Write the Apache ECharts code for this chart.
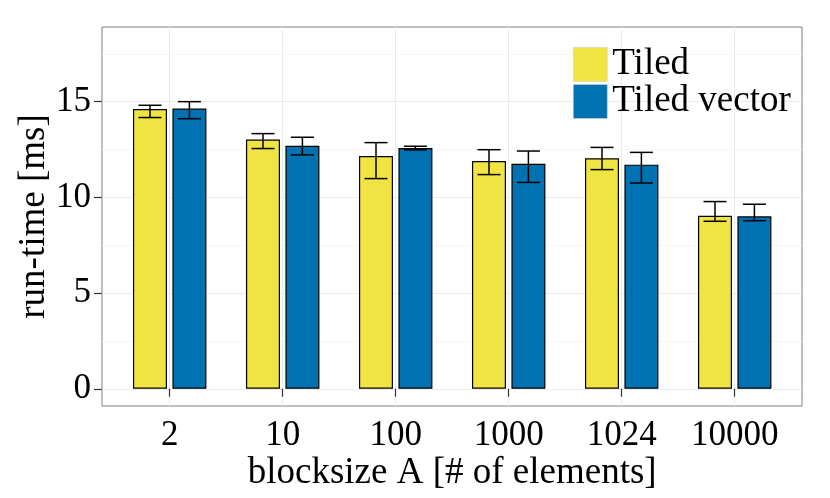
<!DOCTYPE html>
<html>
<head>
    <meta charset="utf-8"/>
    <title>run-time per blocksize</title>
    <script src="https://cdn.jsdelivr.net/npm/echarts@6/dist/echarts.min.js"></script>
    <style>
        html, body { margin: 0; padding: 0; background: #fff; }
        #main { width: 830px; height: 498px; }
    </style>
</head>
<body>
    <div id="main"></div>
    <script type="text/javascript">
        // 数据
        var blockSizes = ['2', '10', '100', '1000', '1024', '10000'];
        var tiledMean = [14.62, 13.02, 12.16, 11.90, 12.04, 9.04];
        var tiledLow = [14.17, 12.55, 10.98, 11.19, 11.45, 8.75];
        var tiledHigh = [14.81, 13.33, 12.86, 12.49, 12.61, 9.78];
        var vectorMean = [14.64, 12.70, 12.58, 11.75, 11.71, 9.01];
        var vectorLow = [14.11, 12.22, 12.48, 10.78, 10.75, 8.78];
        var vectorHigh = [15.00, 13.14, 12.67, 12.42, 12.35, 9.64];
        var yMajorTicks = [0, 5, 10, 15];
        var yMinorTicks = [2.5, 7.5, 12.5, 17.5];

        var font = 'Liberation Serif';
        var myChart = echarts.init(document.getElementById('main'));

        function errorData(low, high) {
            return low.map(function (v, i) {
                return [i, v, high[i]];
            });
        }

        // offset: 柱子中心相对类目中心的像素偏移
        function errorBar(offset) {
            return function (params, api) {
                var lo = api.coord([api.value(0), api.value(1)]);
                var hi = api.coord([api.value(0), api.value(2)]);
                var x = lo[0] + offset;
                var half = 11.5;
                var style = { stroke: '#000', lineWidth: 1.5 };
                return {
                    type: 'group',
                    children: [
                        { type: 'line', shape: { x1: x, y1: lo[1], x2: x, y2: hi[1] }, style: style },
                        { type: 'line', shape: { x1: x - half, y1: lo[1], x2: x + half, y2: lo[1] }, style: style },
                        { type: 'line', shape: { x1: x - half, y1: hi[1], x2: x + half, y2: hi[1] }, style: style }
                    ]
                };
            };
        }

        var option = {
            animation: false,
            textStyle: { fontFamily: font },
            grid: [
                // 面板（边框 + 横向网格线）
                { left: 102, right: 28, top: 27, bottom: 92, show: true,
                  borderColor: '#7f7f7f', borderWidth: 1, backgroundColor: '#fff' },
                // 数据区域（类目中心 = 刻度）
                { left: 169.7, right: 95.3, top: 27, bottom: 92 }
            ],
            legend: {
                data: ['Tiled', 'Tiled vector'],
                orient: 'vertical',
                left: 573,
                top: 46,
                padding: 0,
                itemWidth: 34,
                itemHeight: 34,
                itemGap: 0,
                icon: 'rect',
                itemStyle: { borderColor: '#d0d0d0', borderWidth: 0.6 },
                textStyle: { fontFamily: font, fontSize: 37, color: '#000', lineHeight: 34 }
            },
            xAxis: [
                { type: 'value', gridIndex: 0, show: false, min: 0, max: 1 },
                {
                    type: 'category',
                    gridIndex: 1,
                    data: blockSizes,
                    boundaryGap: false,
                    name: 'blocksize A [# of elements]',
                    nameLocation: 'middle',
                    nameGap: 49,
                    nameMoveOverlap: false,
                    nameTextStyle: { fontFamily: font, fontSize: 37, color: '#000' },
                    axisLine: { show: false },
                    axisTick: { show: true, interval: 0, length: 8, lineStyle: { color: '#333', width: 1.2 } },
                    axisLabel: { interval: 0, fontFamily: font, fontSize: 35, color: '#000', margin: 12 },
                    splitLine: { show: true, interval: 0, lineStyle: { color: '#ebebeb', width: 1 } }
                }
            ],
            yAxis: [
                {
                    type: 'value',
                    gridIndex: 0,
                    min: -0.9,
                    max: 18.9,
                    name: 'run-time [ms]',
                    nameLocation: 'middle',
                    nameRotate: 90,
                    nameGap: 49,
                    nameMoveOverlap: false,
                    nameTextStyle: { fontFamily: font, fontSize: 37, color: '#000' },
                    axisLine: { show: false },
                    axisTick: { show: true, length: 8, customValues: yMajorTicks,
                                lineStyle: { color: '#333', width: 1.2 } },
                    axisLabel: { fontFamily: font, fontSize: 35, color: '#000', margin: 11,
                                 customValues: yMajorTicks },
                    splitLine: { show: true, lineStyle: { color: '#ebebeb', width: 1 } }
                },
                {
                    type: 'value',
                    gridIndex: 1,
                    min: -0.9,
                    max: 18.9,
                    show: false
                },
                {
                    // 次网格线
                    type: 'value',
                    gridIndex: 0,
                    min: -0.9,
                    max: 18.9,
                    axisLine: { show: false },
                    axisLabel: { show: false, customValues: yMinorTicks },
                    axisTick: { show: false, customValues: yMinorTicks },
                    splitLine: { show: true, lineStyle: { color: '#f7f7f7', width: 1 } }
                }
            ],
            series: [
                {
                    name: 'Tiled',
                    type: 'bar',
                    xAxisIndex: 1,
                    yAxisIndex: 1,
                    data: tiledMean,
                    barWidth: 34,
                    barGap: '16%',
                    clip: false,
                    itemStyle: { color: '#F0E442', borderColor: '#000', borderWidth: 1.2 }
                },
                {
                    name: 'Tiled vector',
                    type: 'bar',
                    xAxisIndex: 1,
                    yAxisIndex: 1,
                    data: vectorMean,
                    barWidth: 34,
                    barGap: '16%',
                    clip: false,
                    itemStyle: { color: '#0072B2', borderColor: '#000', borderWidth: 1.2 }
                },
                {
                    name: 'Tiled err',
                    type: 'custom',
                    xAxisIndex: 1,
                    yAxisIndex: 1,
                    data: errorData(tiledLow, tiledHigh),
                    renderItem: errorBar(-19.7),
                    clip: false,
                    z: 5
                },
                {
                    name: 'Tiled vector err',
                    type: 'custom',
                    xAxisIndex: 1,
                    yAxisIndex: 1,
                    data: errorData(vectorLow, vectorHigh),
                    renderItem: errorBar(19.7),
                    clip: false,
                    z: 5
                }
            ]
        };

        myChart.setOption(option);
    </script>
</body>
</html>
